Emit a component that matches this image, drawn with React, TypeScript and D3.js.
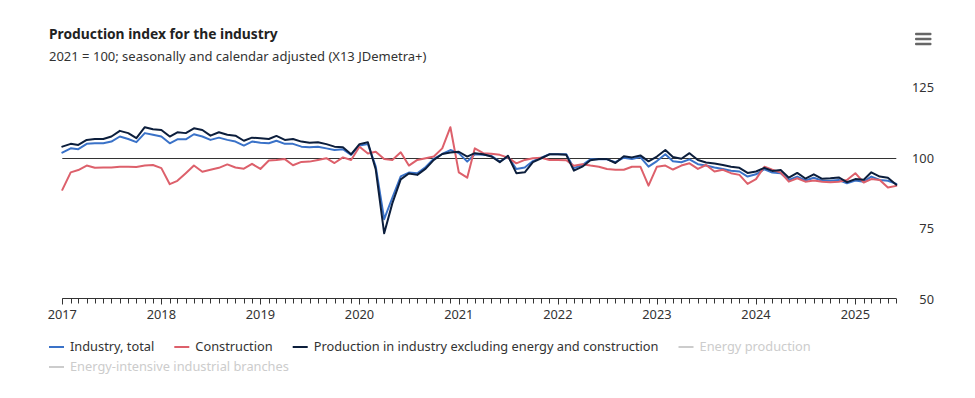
import React, { useEffect, useRef } from "react";
import * as d3 from "d3";

const startYear = 2017;
const yearTicks = [2017, 2018, 2019, 2020, 2021, 2022, 2023, 2024, 2025];
const yTicks = [50, 75, 100, 125];

const industryTotal = [
  102.0, 103.5, 103.2, 105.1, 105.3, 105.3, 105.9, 107.7, 106.8, 105.7, 108.9, 108.3,
  107.7, 105.3, 106.7, 106.7, 108.5, 107.7, 106.5, 107.3, 106.5, 105.9, 104.5, 105.9,
  105.5, 105.3, 106.2, 105.1, 105.1, 104.1, 103.9, 104.1, 103.5, 102.9, 103.2, 101.2,
  104.5, 105.0, 97.0, 78.4, 86.0, 93.6, 94.9, 94.7, 96.9, 99.8, 101.5, 102.9,
  101.8, 98.8, 101.4, 101.2, 100.9, 98.8, 100.6, 96.2, 96.7, 99.0, 100.2, 101.4,
  101.4, 101.4, 96.5, 97.6, 99.6, 99.6, 99.6, 98.6, 100.2, 99.7, 100.4, 97.0,
  99.0, 101.4, 98.9, 98.6, 99.6, 97.9, 97.4, 96.7, 96.2, 95.6, 95.3, 93.5,
  94.3, 96.1, 94.9, 94.7, 92.3, 93.5, 92.1, 93.1, 92.0, 92.0, 92.3, 91.1,
  92.1, 91.7, 93.5, 92.3, 92.0, 90.9,
];

const construction = [
  88.8, 95.0, 95.8, 97.4, 96.6, 96.7, 96.7, 97.0, 97.0, 96.9, 97.4, 97.6,
  96.5, 90.8, 92.0, 94.7, 97.4, 95.2, 95.9, 96.6, 97.8, 96.7, 96.3, 98.0,
  96.2, 99.2, 99.4, 99.7, 97.5, 98.7, 98.8, 99.4, 100.0, 98.3, 100.3, 99.4,
  104.1, 101.7, 102.3, 99.7, 99.4, 102.1, 97.4, 99.4, 100.0, 100.6, 103.5, 111.0,
  95.0, 93.1, 103.5, 101.8, 101.6, 101.2, 100.2, 98.2, 99.4, 100.0, 100.2, 99.4,
  99.4, 99.3, 97.3, 97.9, 97.4, 97.0, 96.2, 95.9, 95.9, 97.0, 97.0, 90.3,
  97.0, 97.4, 96.0, 97.4, 98.2, 96.2, 97.6, 95.3, 95.9, 94.7, 94.1, 90.9,
  92.6, 97.0, 95.9, 94.9, 91.7, 92.9, 91.7, 92.1, 91.7, 91.5, 91.7, 92.3,
  94.7, 91.4, 92.6, 92.3, 89.6, 90.2,
];

const exclEnergy = [
  104.1, 105.1, 104.7, 106.5, 106.8, 106.8, 107.7, 109.7, 108.9, 107.1, 111.0, 110.3,
  110.0, 107.7, 109.2, 108.9, 110.6, 110.0, 108.0, 109.2, 108.3, 108.0, 106.2, 107.3,
  107.1, 106.8, 107.9, 106.5, 106.8, 105.9, 105.5, 105.7, 105.0, 104.1, 103.9, 101.4,
  105.0, 105.7, 96.0, 73.4, 84.0, 92.5, 94.6, 94.1, 96.3, 99.4, 101.5, 102.0,
  102.3, 100.6, 101.8, 101.4, 100.6, 98.6, 100.9, 94.7, 95.0, 98.6, 100.0, 101.4,
  101.4, 101.2, 95.6, 97.0, 99.3, 99.7, 99.7, 98.3, 100.7, 100.3, 101.0, 98.9,
  100.6, 102.9, 100.4, 99.8, 101.8, 99.4, 98.5, 98.1, 97.6, 97.0, 96.6, 94.8,
  95.3, 96.6, 95.5, 95.8, 93.1, 94.8, 92.8, 94.3, 92.7, 92.9, 93.2, 91.5,
  92.6, 92.4, 95.0, 93.5, 93.1, 90.6,
];

const seriesNames = [
  "Industry, total",
  "Construction",
  "Production in industry excluding energy and construction",
  "Energy production",
  "Energy-intensive industrial branches",
];
const seriesColors = ["#3a72c8", "#dd606b", "#0c1e3c", "#cccccc", "#cccccc"];
const seriesVisible = [true, true, true, false, false];

const FONT = "'Noto Sans', sans-serif";

export default function App() {
  const ref = useRef<SVGSVGElement>(null);

  useEffect(() => {
    document.body.style.margin = "0";
    const svg = d3.select(ref.current);
    svg.selectAll("*").remove();

    const W = 975, H = 398;
    const left = 62.3, right = 896.3;
    const n = industryTotal.length;
    const dates = d3.range(n).map((i) => new Date(startYear, i, 1));

    const x = d3
      .scaleTime()
      .domain([new Date(startYear, 0, 1), new Date(startYear, n - 1, 1)])
      .range([left, right]);
    const y = d3.scaleLinear().domain([50, 125]).range([299.3, 87.7]);

    svg.append("rect").attr("width", W).attr("height", H).attr("fill", "#ffffff");

    // Title
    svg.append("text")
      .attr("x", 49).attr("y", 39)
      .attr("font-family", FONT).attr("font-weight", 700).attr("font-size", 13.8)
      .attr("fill", "#222")
      .text("Production index for the industry");
    svg.append("text")
      .attr("x", 49).attr("y", 61)
      .attr("font-family", FONT).attr("font-size", 13)
      .attr("fill", "#333")
      .text("2021 = 100; seasonally and calendar adjusted (X13 JDemetra+)");

    // Menu icon
    [34, 39, 44].forEach((yy) => {
      svg.append("rect").attr("x", 915).attr("y", yy - 1.3).attr("width", 16.5).attr("height", 2.6)
        .attr("rx", 1).attr("fill", "#666");
    });

    // Y labels
    svg.append("g").selectAll("text").data(yTicks).join("text")
      .attr("x", 934).attr("y", (d) => y(d)).attr("dy", "0.35em")
      .attr("text-anchor", "end")
      .attr("font-family", FONT).attr("font-size", 12.8).attr("fill", "#333")
      .text((d) => d);

    // Reference line at 100
    svg.append("line")
      .attr("x1", left).attr("x2", right)
      .attr("y1", Math.round(y(100)) + 0.5).attr("y2", Math.round(y(100)) + 0.5)
      .attr("stroke", "#333").attr("stroke-width", 1);

    // X axis
    const axisY = Math.round(y(50)) - 0.5;
    const ax = svg.append("g");
    ax.append("line").attr("x1", left).attr("x2", right).attr("y1", axisY).attr("y2", axisY)
      .attr("stroke", "#333");
    ax.selectAll("line.tick").data(dates).join("line")
      .attr("class", "tick")
      .attr("x1", (d) => Math.round(x(d)) + 0.5).attr("x2", (d) => Math.round(x(d)) + 0.5)
      .attr("y1", axisY).attr("y2", (d) => axisY + (d.getMonth() === 0 ? 6 : 5))
      .attr("stroke", "#333").attr("stroke-width", 1);
    ax.selectAll("text").data(yearTicks).join("text")
      .attr("x", (d) => x(new Date(d, 0, 1)))
      .attr("y", 315).attr("dy", "0.35em")
      .attr("text-anchor", "middle")
      .attr("font-family", FONT).attr("font-size", 12.8).attr("fill", "#333")
      .text((d) => d);

    // Lines
    const line = d3.line<number>()
      .x((_, i) => x(dates[i]))
      .y((d) => y(d));
    const data = [industryTotal, construction, exclEnergy];
    data.forEach((s, k) => {
      if (!seriesVisible[k]) return;
      svg.append("path")
        .attr("d", line(s))
        .attr("fill", "none")
        .attr("stroke", seriesColors[k])
        .attr("stroke-width", 2)
        .attr("stroke-linejoin", "round")
        .attr("stroke-linecap", "round");
    });

    // Legend
    const lg = svg.append("g");
    let lx = 49, ly = 347;
    const maxX = 930;
    seriesNames.forEach((name, k) => {
      const g = lg.append("g");
      const t = g.append("text")
        .attr("x", 21).attr("y", 0).attr("dy", "0.35em")
        .attr("font-family", FONT).attr("font-size", 12.8)
        .attr("fill", seriesVisible[k] ? "#333" : "#cccccc")
        .text(name);
      const w = 21 + (t.node() as SVGTextElement).getComputedTextLength();
      if (lx + w > maxX) { lx = 49; ly += 20; }
      g.append("line").attr("x1", 0).attr("x2", 15).attr("y1", 0).attr("y2", 0)
        .attr("stroke", seriesColors[k]).attr("stroke-width", 2);
      g.attr("transform", `translate(${lx},${ly})`);
      lx += w + 20;
    });
  }, []);

  return <svg ref={ref} width={975} height={398} style={{ display: "block" }} />;
}
